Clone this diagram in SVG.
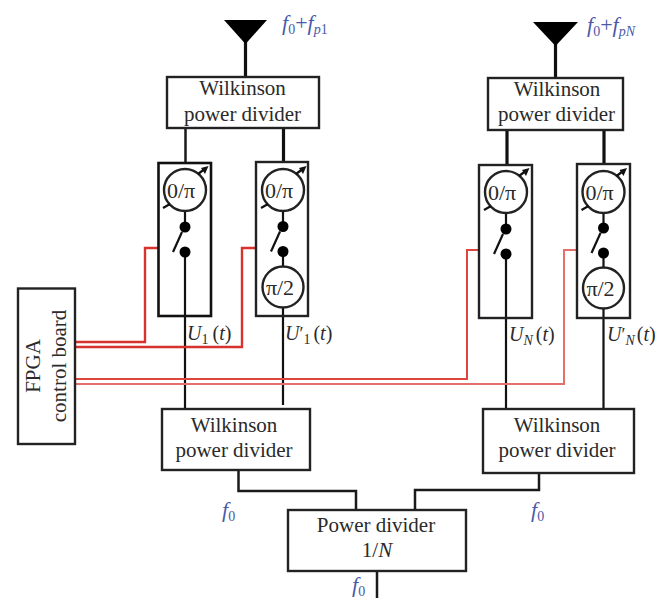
<svg xmlns="http://www.w3.org/2000/svg" width="663" height="598" viewBox="0 0 663 598">
<style>
text{font-family:"Liberation Serif","Times New Roman",serif;fill:#2a2a2a;font-size:21px}
.c{text-anchor:middle}
.b{fill:#fff;stroke:#222;stroke-width:2.4}
.w{fill:none;stroke:#111;stroke-width:2.2}
.t{fill:none;stroke:#111;stroke-width:3.2}
.k{fill:none;stroke:#1a1a1a;stroke-width:2.5}
.r{fill:none;stroke:#d8322e;stroke-width:2.4}
.r2{fill:none;stroke:#dd4540;stroke-width:2}
.l{fill:none;stroke:#e4706c;stroke-width:2}
.d{fill:#000}
.f{font-style:italic;fill:#4a5aa8;font-size:22px}
.s{font-size:14px}
.m{font-size:18px}
.u{font-size:20px}
.p{font-size:22px}
.i{font-style:italic}
.n{font-style:normal}
</style>
<defs>
<g id="ps">
<circle r="21" fill="#fff" stroke="#222" stroke-width="2.4"/>
<path d="M-22 18L-15 14M13 -16L21 -22" class="w"/>
<path d="M16 -22L23.500 -24L20 -16Z" fill="#111"/>
<text class="c p" x="-4" y="8">0/π</text>
</g>
<g id="sw">
<circle cy="0" r="5.500" class="d"/>
<circle cy="25" r="5.500" class="d"/>
<path d="M-3 5L-12 25" class="w"/>
</g>
<g id="hp">
<circle r="20.500" fill="#fff" stroke="#222" stroke-width="2.400"/>
<text class="c p" x="-3" y="8">π/2</text>
</g>
</defs>
<g id="connectors">
<path class="t" d="M245.500 40V77M283.500 128V162M555.500 42V78M507 130V165M604 130V164"/>
<path class="k" d="M185.500 128V163"/>
<path class="w" d="M185 252V409M283 307V405M506 254V409M603.500 308V409"/>
<path class="w" d="M185 211V227M283 211V227M283 251V267M506 213V229M603.500 213V228M603.500 253V268"/>
<path class="k" d="M238.500 470V491H356V510M539 473V490H415V510M377 571V598"/>
<path class="r" d="M76 342H145V248H158"/>
<path class="r" d="M76 347H242V248H256"/>
<path class="r2" d="M76 379H467V250H479"/>
<path class="l" d="M76 384H564V250H577"/>
</g>
<g id="antenna-1"><path d="M224 20H267L245.500 44Z" fill="#000"/></g>
<g id="antenna-n"><path d="M533 22H578L555.500 46Z" fill="#000"/></g>
<g id="wilkinson-top-1"><rect class="b" x="167" y="77" width="152" height="51"/><text class="c" x="242.500" y="95">Wilkinson</text><text class="c" x="242.500" y="121">power divider</text></g>
<g id="wilkinson-top-n"><rect class="b" x="488" y="78" width="135" height="52"/><text class="c" x="557" y="96">Wilkinson</text><text class="c" x="556.500" y="121">power divider</text></g>
<g id="module-1"><rect x="158.500" y="163" width="52.500" height="153" fill="none" stroke="#111" stroke-width="2.600"/><use href="#ps" x="185" y="190"/><use href="#sw" x="185" y="227"/></g>
<g id="module-1p"><rect x="256" y="162" width="52" height="154" fill="none" stroke="#222" stroke-width="2.400"/><use href="#ps" x="283" y="190"/><use href="#sw" x="283" y="226.500"/><use href="#hp" x="283" y="287"/></g>
<g id="module-n"><rect x="479" y="165" width="53" height="153" fill="none" stroke="#222" stroke-width="2.400"/><use href="#ps" x="506" y="192"/><use href="#sw" x="506" y="229"/></g>
<g id="module-np"><rect x="577" y="164" width="53" height="154" fill="none" stroke="#222" stroke-width="2.400"/><use href="#ps" x="603.500" y="192"/><use href="#sw" x="603.500" y="228"/><use href="#hp" x="603.500" y="288"/></g>
<g id="fpga"><rect class="b" x="18" y="288.500" width="57" height="155.500"/><text class="c" transform="translate(40 366) rotate(-90)">FPGA</text><text class="c" transform="translate(65.500 366) rotate(-90)">control board</text></g>
<g id="wilkinson-bottom-1"><rect class="b" x="162" y="409" width="148" height="61"/><text class="c" x="234" y="432">Wilkinson</text><text class="c" x="234" y="457">power divider</text></g>
<g id="wilkinson-bottom-n"><rect class="b" x="483" y="409" width="151" height="64"/><text class="c" x="557" y="432">Wilkinson</text><text class="c" x="557" y="457">power divider</text></g>
<g id="power-divider"><rect class="b" x="288" y="510" width="178" height="61"/><text class="c" x="376" y="532">Power divider</text><text class="c" x="377" y="557">1/<tspan class="i">N</tspan></text></g>
<g id="labels">
<text class="f" x="282" y="30">f<tspan class="s n" dy="4">0</tspan><tspan class="n" dy="-4">+</tspan>f<tspan class="s" dy="4">p</tspan><tspan class="s n">1</tspan></text>
<text class="f" x="587" y="32">f<tspan class="s n" dy="4">0</tspan><tspan class="n" dy="-4">+</tspan>f<tspan class="s" dy="4">pN</tspan></text>
<text class="f" x="222" y="517">f<tspan class="s n" dy="4">0</tspan></text>
<text class="f" x="531" y="517">f<tspan class="s n" dy="4">0</tspan></text>
<text class="f" x="352" y="592">f<tspan class="s n" dy="4">0</tspan></text>
<text class="u" x="187" y="340"><tspan class="i">U</tspan><tspan class="s" dy="4">1</tspan><tspan dy="-4" dx="4">(</tspan><tspan class="i">t</tspan>)</text>
<text class="u" x="285" y="340"><tspan class="i">U</tspan><tspan class="m">′</tspan><tspan class="s" dy="4">1</tspan><tspan dy="-4" dx="3">(</tspan><tspan class="i">t</tspan>)</text>
<text class="u" x="509" y="341"><tspan class="i">U</tspan><tspan class="s i" dy="4">N</tspan><tspan dy="-4" dx="3">(</tspan><tspan class="i">t</tspan>)</text>
<text class="u" x="607" y="341"><tspan class="i">U</tspan><tspan class="m">′</tspan><tspan class="s i" dy="4">N</tspan><tspan dy="-4" dx="2">(</tspan><tspan class="i">t</tspan>)</text>
</g>
</svg>
